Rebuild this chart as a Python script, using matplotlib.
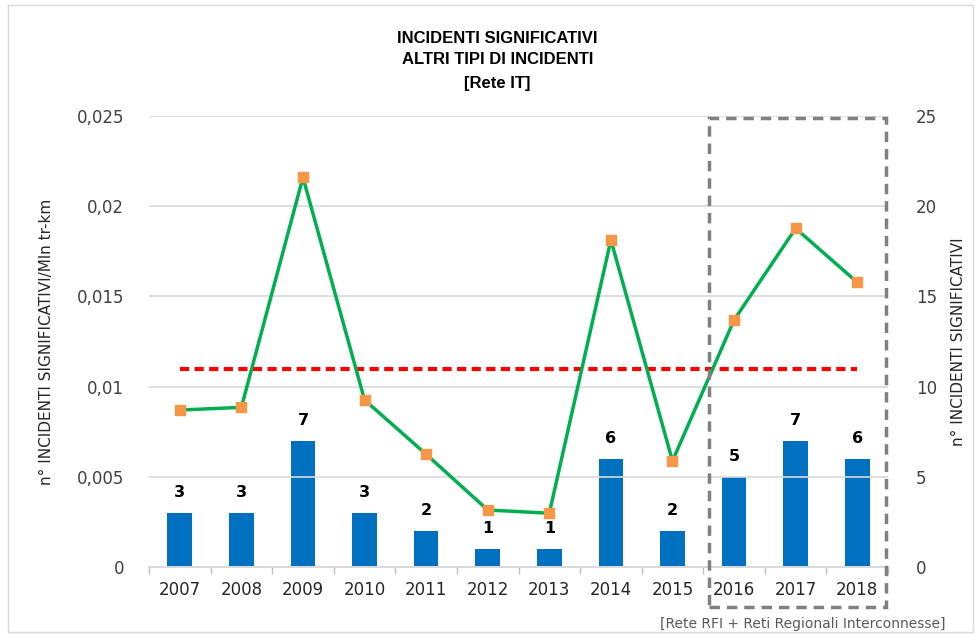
import numpy as np
import matplotlib.pyplot as plt
from matplotlib.patches import Rectangle
from matplotlib.ticker import FuncFormatter

# data
anni = ['2007', '2008', '2009', '2010', '2011', '2012', '2013', '2014', '2015', '2016', '2017', '2018']
incidenti = [3, 3, 7, 3, 2, 1, 1, 6, 2, 5, 7, 6]
tasso = [0.0087, 0.00885, 0.0216, 0.00926, 0.00625, 0.00316, 0.00298, 0.01813, 0.00588, 0.01369, 0.01877, 0.01578]
soglia = 0.011

plt.rcParams['font.family'] = ['DejaVu Sans']

fig = plt.figure(figsize=(9.75, 6.35), dpi=100)
fig.patches.append(Rectangle((0.008, 0.004), 0.99, 0.988, transform=fig.transFigure,
                             fill=False, edgecolor='#d9d9d9', linewidth=1))

ax = fig.add_axes([0.1528, 0.1071, 0.758, 0.7102])
ax2 = ax.twinx()
x = np.arange(len(anni))

# bars on secondary axis
ax2.bar(x, incidenti, width=0.4, color='#0070c0', zorder=2)
for xi, v in zip(x, incidenti):
    ax2.annotate(str(v), (xi, v), xytext=(0, 9), textcoords='offset points',
                 ha='center', va='bottom', fontsize=11.5, fontweight='bold', color='black')
ax2.set_ylim(0, 25)
ax2.set_yticks([0, 5, 10, 15, 20, 25])
ax2.set_ylabel('n° INCIDENTI SIGNIFICATIVI', fontsize=11, color='#262626', labelpad=10)

# line on primary axis, drawn above bars
ax.set_zorder(ax2.get_zorder() + 1)
ax.patch.set_visible(False)
ax.plot(x, tasso, color='#00b050', linewidth=2.5, marker='s', markersize=7.5,
        markerfacecolor='#f79646', markeredgecolor='#f79646', zorder=4)
ax.plot([0, len(anni) - 1], [soglia, soglia], color='#ff0000', linewidth=3,
        linestyle=(0, (2.2, 1.3)), zorder=3)
ax.set_ylim(0, 0.025)
ax.set_yticks([0, 0.005, 0.01, 0.015, 0.02, 0.025])
ax.yaxis.set_major_formatter(FuncFormatter(lambda v, p: '0' if v == 0 else ('%g' % v).replace('.', ',')))
ax.set_ylabel('n° INCIDENTI SIGNIFICATIVI/Mln tr-km', fontsize=11, color='#262626', labelpad=16)
ax.set_xlim(-0.5, len(anni) - 0.5)
ax.set_xticks(x)
ax.set_xticklabels(anni)
ax.set_xticks(np.arange(-0.5, len(anni), 1), minor=True)
ax.tick_params(axis='x', which='major', length=0, pad=10, labelsize=12, labelcolor='#262626')
ax.tick_params(axis='x', which='minor', length=5, color='#bfbfbf', width=1)
ax.tick_params(axis='y', length=0, pad=18, labelsize=12, labelcolor='#404040')
ax2.tick_params(axis='y', length=0, pad=20, labelsize=12, labelcolor='#404040')
ax.grid(axis='y', color='#d9d9d9', linewidth=1.2)
ax.set_axisbelow(True)
for a in (ax, ax2):
    for s in ['top', 'left', 'right']:
        a.spines[s].set_visible(False)
    a.spines['bottom'].set_color('#d9d9d9')
    a.spines['bottom'].set_linewidth(1.2)

# gray dashed box around last three years
box = Rectangle((8.59, -0.089), 2.87, 1.085, transform=ax.get_xaxis_transform(),
                fill=False, edgecolor='#808080', linewidth=2.5, linestyle=(0, (3, 2)),
                clip_on=False, zorder=5)
ax.add_patch(box)

fig.text(0.51, 0.94, 'INCIDENTI SIGNIFICATIVI', ha='center', va='center',
         fontsize=12, fontweight='bold', family='Liberation Sans')
fig.text(0.51, 0.906, 'ALTRI TIPI DI INCIDENTI', ha='center', va='center',
         fontsize=12, fontweight='bold', family='Liberation Sans')
fig.text(0.51, 0.869, '[Rete IT]', ha='center', va='center',
         fontsize=12, fontweight='bold', family='Liberation Sans')
fig.text(0.97, 0.018, '[Rete RFI + Reti Regionali Interconnesse]', ha='right', va='center',
         fontsize=10, color='#595959')

fig.savefig('out.png', dpi=100)
